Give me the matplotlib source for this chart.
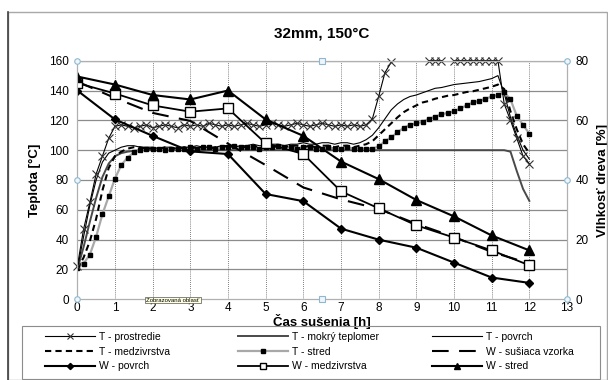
import numpy as np
import matplotlib
matplotlib.use("Agg")
import matplotlib.pyplot as plt
from matplotlib.patches import Rectangle
from matplotlib.lines import Line2D

plt.rcParams['font.family'] = ['Liberation Sans', 'DejaVu Sans']

nan = np.nan

# time axis for temperature logs, every 10 min
t_log = np.arange(73) / 6.0
# hourly samples for moisture
t_hr = [0, 1, 2, 3, 4, 5, 6, 7, 8, 9, 10, 11, 12]

T_prostredie = [22, 47, 65, 84, 96, 108, 116,
                117, 116, 115, 116, 117, 115, 116, 117, 116, 115,
                117, 116, 117, 116, 118, 117, 116, 117, 116, 117,
                118, 117, 116, 117, 118, 117, 116, 117, 118, 117,
                116, 117, 118, 117, 116, 117, 116, 117, 116,
                117, 121, 136, 152, 159,
                nan, nan, nan, nan, nan,
                160, 160, 160, nan,
                160, 160, 160, 160, 160, 160, 160, 160,
                131, 120, 108, 96, 91]

T_mokry = [20, 35, 52, 68, 82, 91, 96, 98, 99, 99.5, 100, 100,
           100, 100, 100, 100, 100, 100, 100, 100, 100, 100,
           100, 100, 100, 100, 100, 100, 100, 100, 100, 100,
           100, 100, 100, 100, 100, 100, 100, 100, 100, 100,
           100, 100, 100, 100, 100, 100, 100, 100, 100, 100,
           100, 100, 100, 100, 100, 100, 100, 100, 100, 100,
           100, 100, 100, 100, 100, 100, 100, 99,
           86, 74, 66]

T_povrch = [20, 42, 63, 80, 92, 98, 100, 102, 103, 103, 102, 102,
            102, 101, 102, 102, 101, 102, 102, 103, 102, 102,
            102, 103, 103, 102, 103, 103, 104, 103, 103, 104,
            104, 103, 104, 104, 105, 104, 104, 105, 105, 104,
            105, 105, 104, 105,
            107, 110, 115, 121, 127, 131, 134, 136, 137, 138.5,
            140, 141.5, 142, 143, 144, 144.5, 145, 145.5, 146, 147,
            148, 150, 138, 122, 110, 100, 94]

T_medzivrstva = [20, 28, 39, 54, 73, 88, 96, 99, 101, 102, 102, 101,
                 101, 101, 102, 101, 101, 102, 101, 102, 102, 101,
                 102, 102, 103, 102, 102, 102, 103, 102, 102, 103,
                 102, 102, 103, 103, 102, 103, 102, 103, 103, 102,
                 103, 103, 102, 103,
                 104, 106, 110, 114, 118, 122, 125.5, 128, 130, 132,
                 133, 134.5, 135.5, 136.5, 137, 138, 139, 139.5, 140.5, 141.5,
                 142.5, 144, 141, 126, 114, 104, 98]

T_stred = [21, 24, 30, 42, 57, 69, 81, 90, 95, 98.5, 100, 101,
           101, 101, 100, 101, 101, 101, 102, 101, 102, 102,
           101, 102, 102, 103, 102, 102, 102, 101, 102, 102,
           103, 102, 102, 101, 102, 102, 101, 101, 102, 101,
           101, 102, 101, 101, 101,
           101, 102.5, 106, 108.5, 112, 115, 117, 118, 119, 121,
           122.5, 124, 125, 126, 128, 130, 132, 133, 134.5, 136,
           137, 139, 134, 123, 117, 111]

W_susiaca = [73, 67.5, 62.5, 59.8, 52.2, 45, 37.5, 33.5, 30.3, 25.3, 20.9, 15.9, 12]
W_povrch = [70, 60.3, 54.8, 49.6, 48.7, 35.3, 32.9, 23.7, 20, 17.3, 12.3, 7.3, 5.5]
W_medzivrstva = [72.5, 69, 65, 62.9, 64, 52.3, 48.7, 36.2, 30.5, 24.8, 20.7, 16.4, 11.4]
W_stred = [74.7, 72, 68.5, 67, 70, 60.3, 54.8, 46.2, 40.3, 33.3, 27.8, 21.4, 16.4]

fig = plt.figure(figsize=(6.08, 3.8), dpi=100)
W, H = 608.0, 380.0

# outer chart frame (Excel chart area)
fig.patches.append(Rectangle((8 / W, 0), 599 / W, 368 / H, transform=fig.transFigure,
                             fill=False, edgecolor='#a8a8a8', lw=1.0))
fig.lines.append(Line2D([8 / W, 8 / W], [0, 368 / H], transform=fig.transFigure,
                        color='#404040', lw=1.2))

ax = fig.add_axes([77.3 / W, 1 - 299.3 / H, (567 - 77.3) / W, (299.3 - 60.7) / H])
ax2 = ax.twinx()

ax.set_xlim(0, 13)
ax.set_ylim(0, 160)
ax2.set_ylim(0, 80)
ax.set_xticks(range(14))
ax.set_yticks(range(0, 161, 20))
ax2.set_yticks(range(0, 81, 20))

for y in range(20, 161, 20):
    ax.axhline(y, color='#8c8c8c', lw=0.9, zorder=0)
for x in range(1, 13):
    ax.axvline(x, color='#555555', lw=0.6, ls=(0, (1, 1.5)), zorder=0)

for a in (ax, ax2):
    for s in a.spines.values():
        s.set_color('#b0b0b0')
        s.set_linewidth(0.8)
    a.tick_params(length=0, labelsize=8.5, pad=6, colors='black')
ax.tick_params(axis='x', pad=2)

ax.plot(t_log, T_mokry, color='#4a4a4a', lw=1.4, label='T - mokrý teplomer', zorder=1)
ax.plot(t_log, T_stred, color='#a8a8a8', lw=1.6, marker='s', ms=3.2, mfc='black',
        mec='black', label='T - stred', zorder=3)
ax.plot(t_log, T_medzivrstva, color='black', lw=1.5, ls=(0, (3, 2)),
        label='T - medzivrstva', zorder=3)
ax.plot(t_log, T_povrch, color='black', lw=0.8, label='T - povrch', zorder=3)
ax.plot(t_log, T_prostredie, color='black', lw=0.8, marker='x', ms=5.5, mew=0.8,
        mec='#333333', label='T - prostredie', zorder=4, clip_on=False)

ax2.plot(t_hr, W_susiaca, color='black', lw=1.5, ls=(0, (8, 5)), label='W - sušiaca vzorka')
ax2.plot(t_hr, W_povrch, color='black', lw=1.5, marker='D', ms=4.5, label='W - povrch')
ax2.plot(t_hr, W_medzivrstva, color='black', lw=1.3, marker='s', ms=7, mfc='white',
         mew=1.0, label='W - medzivrstva')
ax2.plot(t_hr, W_stred, color='black', lw=1.5, marker='^', ms=6.5, label='W - stred')

ax.set_title('32mm, 150°C', fontsize=11, fontweight='bold', pad=17)
ax.set_xlabel('Čas sušenia [h]', fontsize=9.5, fontweight='bold', labelpad=0)
ax.set_ylabel('Teplota [°C]', fontsize=9.5, fontweight='bold', labelpad=6)
ax2.set_ylabel('Vlhkosť dreva [%]', fontsize=9.5, fontweight='bold', rotation=90, labelpad=6)

# Excel selection handles on the plot area
hx = [0, 0.5, 1, 0, 1, 0, 0.5, 1]
hy = [1, 1, 1, 0.5, 0.5, 0, 0, 0]
for x, y in zip(hx, hy):
    ax2.plot([x], [y], transform=ax2.transAxes, marker='s' if x == 0.5 else 'o', ms=4,
             mfc='#eef6fb', mec='#8fb8d0', mew=0.8, clip_on=False, zorder=10)

fig.text(173 / W, 1 - 300 / H, 'Zobrazovaná oblasť', fontsize=4.3, ha='center', va='center',
         bbox=dict(boxstyle='square,pad=0.15', fc='#ffffe1', ec='#555555', lw=0.5), zorder=20)

# legend: frame plus three columns
fig.patches.append(Rectangle((22 / W, 1 / H), 578 / W, 53 / H, transform=fig.transFigure,
                             fill=False, edgecolor='#8c8c8c', lw=0.8))
handles, labels = ax.get_legend_handles_labels()
h2, l2 = ax2.get_legend_handles_labels()
hd = dict(zip(labels + l2, handles + h2))
columns = [['T - prostredie', 'T - medzivrstva', 'W - povrch'],
           ['T - mokrý teplomer', 'T - stred', 'W - medzivrstva'],
           ['T - povrch', 'W - sušiaca vzorka', 'W - stred']]
col_x = [45, 238, 432]
for cx, col in zip(col_x, columns):
    fig.legend([hd[k] for k in col], col, loc='upper left',
               bbox_to_anchor=(cx / W, 1 - 332 / H), frameon=False,
               fontsize=7.5, handlelength=4.8, borderpad=0, borderaxespad=0,
               labelspacing=0.45, handletextpad=0.4, markerscale=0.7)

fig.savefig('out.png', dpi=100)
